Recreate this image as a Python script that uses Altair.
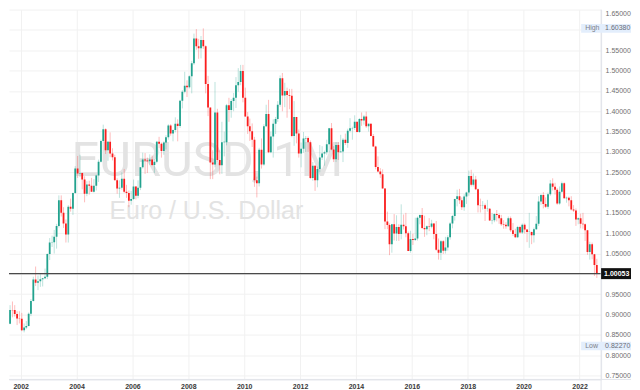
import altair as alt
import pandas as pd
import numpy as np

# Monthly EUR/USD candles, Jul 2001 .. Aug 2022
OPEN = [
    0.8490, 0.8770, 0.9110, 0.9110, 0.9010, 0.8900,
    0.8895, 0.8610, 0.8680, 0.8720, 0.9020, 0.9330, 0.9860, 0.9780, 0.9820, 0.9870, 0.9890, 0.9930,
    1.0490, 1.0770, 1.0780, 1.0910, 1.1180, 1.1810, 1.1500, 1.1240, 1.0970, 1.1650, 1.1600, 1.1990,
    1.2590, 1.2470, 1.2480, 1.2320, 1.1970, 1.2200, 1.2170, 1.2020, 1.2170, 1.2420, 1.2760, 1.3270,
    1.3560, 1.3040, 1.3250, 1.2960, 1.2870, 1.2300, 1.2100, 1.2120, 1.2340, 1.2020, 1.1990, 1.1800,
    1.1840, 1.2150, 1.1920, 1.2120, 1.2620, 1.2810, 1.2790, 1.2770, 1.2810, 1.2680, 1.2760, 1.3250,
    1.3200, 1.3020, 1.3230, 1.3360, 1.3650, 1.3450, 1.3540, 1.3690, 1.3640, 1.4260, 1.4480, 1.4630,
    1.4590, 1.4860, 1.5180, 1.5790, 1.5600, 1.5550, 1.5750, 1.5600, 1.4670, 1.4090, 1.2740, 1.2690,
    1.3970, 1.2800, 1.2670, 1.3240, 1.3240, 1.4150, 1.4030, 1.4250, 1.4330, 1.4640, 1.4720, 1.4990,
    1.4330, 1.3870, 1.3630, 1.3510, 1.3300, 1.2300, 1.2230, 1.3050, 1.2690, 1.3630, 1.3930, 1.2990,
    1.3380, 1.3690, 1.3810, 1.4160, 1.4810, 1.4390, 1.4500, 1.4400, 1.4380, 1.3390, 1.3860, 1.3450,
    1.2960, 1.3080, 1.3330, 1.3340, 1.3240, 1.2360, 1.2660, 1.2300, 1.2580, 1.2860, 1.2960, 1.2990,
    1.3190, 1.3580, 1.3060, 1.2820, 1.3170, 1.2990, 1.3010, 1.3300, 1.3220, 1.3520, 1.3580, 1.3590,
    1.3740, 1.3490, 1.3810, 1.3770, 1.3870, 1.3630, 1.3690, 1.3390, 1.3130, 1.2630, 1.2520, 1.2450,
    1.2100, 1.1290, 1.1200, 1.0730, 1.1220, 1.0990, 1.1150, 1.0980, 1.1210, 1.1170, 1.1000, 1.0560,
    1.0860, 1.0830, 1.0870, 1.1380, 1.1450, 1.1130, 1.1100, 1.1170, 1.1160, 1.1240, 1.0980, 1.0590,
    1.0520, 1.0800, 1.0570, 1.0650, 1.0900, 1.1240, 1.1420, 1.1840, 1.1910, 1.1810, 1.1640, 1.1900,
    1.2000, 1.2410, 1.2190, 1.2320, 1.2080, 1.1690, 1.1680, 1.1690, 1.1600, 1.1600, 1.1310, 1.1320,
    1.1470, 1.1450, 1.1370, 1.1220, 1.1210, 1.1170, 1.1370, 1.1070, 1.0980, 1.0900, 1.1150, 1.1020,
    1.1210, 1.1090, 1.1030, 1.1030, 1.0950, 1.1100, 1.1230, 1.1780, 1.1940, 1.1720, 1.1650, 1.1960,
    1.2220, 1.2140, 1.2070, 1.1730, 1.2020, 1.2230, 1.1860, 1.1870, 1.1810, 1.1580, 1.1560, 1.1340,
    1.1370, 1.1230, 1.1220, 1.1070, 1.0540, 1.0730, 1.0480, 1.0220,
]
HIGH = [
    0.8830, 0.9230, 0.9320, 0.9230, 0.9080, 0.9080,
    0.9040, 0.8780, 0.8840, 0.9050, 0.9380, 0.9930, 1.0180, 0.9960, 0.9990, 0.9900, 1.0130, 1.0500,
    1.0880, 1.0940, 1.1080, 1.1230, 1.1930, 1.1930, 1.1640, 1.1340, 1.1690, 1.1850, 1.2000, 1.2650,
    1.2900, 1.2930, 1.2490, 1.2400, 1.2280, 1.2290, 1.2360, 1.2330, 1.2440, 1.2810, 1.3300, 1.3670,
    1.3580, 1.3270, 1.3480, 1.3090, 1.2930, 1.2350, 1.2300, 1.2500, 1.2580, 1.2190, 1.2050, 1.2040,
    1.2320, 1.2160, 1.2300, 1.2630, 1.2980, 1.2970, 1.2860, 1.2940, 1.2910, 1.2820, 1.3270, 1.3370,
    1.3230, 1.3260, 1.3410, 1.3680, 1.3680, 1.3550, 1.3850, 1.3800, 1.4280, 1.4520, 1.4970, 1.4760,
    1.4880, 1.5240, 1.5910, 1.6020, 1.5780, 1.5850, 1.6038, 1.5620, 1.4870, 1.4090, 1.3040, 1.4720,
    1.4060, 1.3040, 1.3740, 1.3500, 1.4180, 1.4330, 1.4300, 1.4450, 1.4840, 1.5060, 1.5140, 1.5140,
    1.4580, 1.3980, 1.3820, 1.3700, 1.3370, 1.2390, 1.3100, 1.3330, 1.3680, 1.4160, 1.4280, 1.3500,
    1.3800, 1.3860, 1.4250, 1.4880, 1.4940, 1.4700, 1.4580, 1.4550, 1.4550, 1.4250, 1.3860, 1.3550,
    1.3230, 1.3490, 1.3390, 1.3380, 1.3280, 1.2750, 1.2670, 1.2640, 1.3170, 1.3140, 1.3030, 1.3300,
    1.3590, 1.3710, 1.3140, 1.3240, 1.3240, 1.3420, 1.3340, 1.3450, 1.3570, 1.3830, 1.3620, 1.3900,
    1.3740, 1.3830, 1.3970, 1.3910, 1.3990, 1.3700, 1.3700, 1.3440, 1.3150, 1.2890, 1.2600, 1.2570,
    1.2110, 1.1530, 1.1240, 1.1230, 1.1470, 1.1440, 1.1220, 1.1710, 1.1460, 1.1500, 1.1040, 1.1060,
    1.0990, 1.1380, 1.1410, 1.1460, 1.1620, 1.1430, 1.1190, 1.1370, 1.1330, 1.1250, 1.1300, 1.0870,
    1.0830, 1.0830, 1.0910, 1.0950, 1.1270, 1.1450, 1.1850, 1.2070, 1.2090, 1.1880, 1.1960, 1.2020,
    1.2540, 1.2560, 1.2470, 1.2410, 1.2100, 1.1850, 1.1790, 1.1730, 1.1820, 1.1620, 1.1500, 1.1490,
    1.1570, 1.1490, 1.1450, 1.1320, 1.1270, 1.1410, 1.1410, 1.1250, 1.1110, 1.1180, 1.1180, 1.1240,
    1.1240, 1.1100, 1.1500, 1.1040, 1.1140, 1.1420, 1.1910, 1.1970, 1.2010, 1.1880, 1.2000, 1.2310,
    1.2350, 1.2240, 1.2110, 1.2150, 1.2270, 1.2250, 1.1900, 1.1900, 1.1910, 1.1690, 1.1610, 1.1390,
    1.1480, 1.1500, 1.1240, 1.1080, 1.0790, 1.0770, 1.0490, 1.0370,
]
LOW = [
    0.8400, 0.8760, 0.8930, 0.8950, 0.8740, 0.8780,
    0.8590, 0.8560, 0.8640, 0.8710, 0.8960, 0.9320, 0.9700, 0.9600, 0.9680, 0.9690, 0.9870, 0.9870,
    1.0340, 1.0660, 1.0500, 1.0620, 1.1140, 1.1410, 1.1130, 1.0770, 1.0770, 1.1530, 1.1450, 1.1970,
    1.2360, 1.2380, 1.2080, 1.1760, 1.1910, 1.1950, 1.2020, 1.2000, 1.2050, 1.2260, 1.2740, 1.3240,
    1.2950, 1.2780, 1.2870, 1.2790, 1.2300, 1.1970, 1.1870, 1.2070, 1.1990, 1.1870, 1.1640, 1.1700,
    1.1820, 1.1830, 1.1860, 1.2060, 1.2590, 1.2460, 1.2480, 1.2680, 1.2650, 1.2480, 1.2720, 1.3090,
    1.2860, 1.2930, 1.3060, 1.3300, 1.3400, 1.3260, 1.3480, 1.3260, 1.3590, 1.4070, 1.4440, 1.4350,
    1.4560, 1.4440, 1.5140, 1.5510, 1.5290, 1.5300, 1.5530, 1.4440, 1.3880, 1.2330, 1.2330, 1.2620,
    1.2760, 1.2450, 1.2460, 1.2890, 1.3160, 1.3740, 1.3840, 1.4000, 1.4080, 1.4480, 1.4640, 1.4220,
    1.3860, 1.3440, 1.3270, 1.3120, 1.2140, 1.1880, 1.2150, 1.2590, 1.2660, 1.3610, 1.2970, 1.2970,
    1.2860, 1.3440, 1.3740, 1.4110, 1.4000, 1.4100, 1.3840, 1.4050, 1.3360, 1.3150, 1.3210, 1.2860,
    1.2620, 1.2980, 1.3000, 1.3000, 1.2330, 1.2290, 1.2040, 1.2130, 1.2500, 1.2800, 1.2660, 1.2930,
    1.2990, 1.3040, 1.2750, 1.2750, 1.2800, 1.2990, 1.2750, 1.3170, 1.3100, 1.3480, 1.3300, 1.3540,
    1.3480, 1.3470, 1.3640, 1.3670, 1.3590, 1.3500, 1.3380, 1.3130, 1.2570, 1.2500, 1.2360, 1.2100,
    1.1100, 1.1100, 1.0460, 1.0520, 1.0820, 1.0810, 1.0810, 1.0850, 1.1090, 1.0900, 1.0560, 1.0520,
    1.0710, 1.0810, 1.0820, 1.1220, 1.1100, 1.0910, 1.0950, 1.1050, 1.1120, 1.0850, 1.0570, 1.0350,
    1.0340, 1.0490, 1.0500, 1.0570, 1.0840, 1.1120, 1.1310, 1.1660, 1.1720, 1.1570, 1.1550, 1.1720,
    1.1920, 1.2150, 1.2150, 1.2060, 1.1510, 1.1510, 1.1580, 1.1300, 1.1530, 1.1300, 1.1220, 1.1270,
    1.1290, 1.1230, 1.1180, 1.1110, 1.1110, 1.1160, 1.1030, 1.0930, 1.0880, 1.0880, 1.0990, 1.0980,
    1.0990, 1.0780, 1.0640, 1.0730, 1.0770, 1.1080, 1.1180, 1.1700, 1.1610, 1.1620, 1.1600, 1.1920,
    1.2050, 1.1950, 1.1700, 1.1700, 1.1990, 1.1850, 1.1750, 1.1660, 1.1560, 1.1520, 1.1180, 1.1220,
    1.1120, 1.1110, 1.0810, 1.0470, 1.0350, 1.0360, 0.9950, 0.9900,
]
CLOSE = [
    0.8770, 0.9110, 0.9105, 0.9010, 0.8900, 0.8895,
    0.8610, 0.8680, 0.8720, 0.9020, 0.9330, 0.9860, 0.9780, 0.9820, 0.9870, 0.9890, 0.9930, 1.0490,
    1.0770, 1.0780, 1.0910, 1.1180, 1.1810, 1.1500, 1.1240, 1.0970, 1.1650, 1.1600, 1.1990, 1.2590,
    1.2470, 1.2480, 1.2320, 1.1970, 1.2200, 1.2170, 1.2020, 1.2170, 1.2420, 1.2760, 1.3270, 1.3560,
    1.3040, 1.3250, 1.2960, 1.2870, 1.2300, 1.2100, 1.2120, 1.2340, 1.2020, 1.1990, 1.1800, 1.1840,
    1.2150, 1.1920, 1.2120, 1.2620, 1.2810, 1.2790, 1.2770, 1.2810, 1.2680, 1.2760, 1.3250, 1.3200,
    1.3020, 1.3230, 1.3360, 1.3650, 1.3450, 1.3540, 1.3690, 1.3640, 1.4260, 1.4480, 1.4630, 1.4590,
    1.4860, 1.5180, 1.5790, 1.5600, 1.5550, 1.5750, 1.5600, 1.4670, 1.4090, 1.2740, 1.2690, 1.3970,
    1.2800, 1.2670, 1.3240, 1.3250, 1.4150, 1.4030, 1.4250, 1.4330, 1.4640, 1.4720, 1.4990, 1.4330,
    1.3870, 1.3630, 1.3510, 1.3300, 1.2300, 1.2230, 1.3050, 1.2690, 1.3630, 1.3930, 1.2990, 1.3380,
    1.3690, 1.3810, 1.4160, 1.4810, 1.4390, 1.4500, 1.4400, 1.4380, 1.3390, 1.3860, 1.3450, 1.2960,
    1.3080, 1.3330, 1.3340, 1.3240, 1.2360, 1.2660, 1.2300, 1.2580, 1.2860, 1.2960, 1.2990, 1.3190,
    1.3580, 1.3060, 1.2820, 1.3170, 1.2990, 1.3010, 1.3300, 1.3220, 1.3520, 1.3580, 1.3590, 1.3740,
    1.3490, 1.3810, 1.3770, 1.3870, 1.3630, 1.3690, 1.3390, 1.3130, 1.2630, 1.2520, 1.2450, 1.2100,
    1.1290, 1.1200, 1.0730, 1.1220, 1.0990, 1.1150, 1.0980, 1.1210, 1.1170, 1.1000, 1.0560, 1.0860,
    1.0830, 1.0870, 1.1380, 1.1450, 1.1130, 1.1100, 1.1170, 1.1160, 1.1240, 1.0980, 1.0590, 1.0520,
    1.0800, 1.0570, 1.0650, 1.0900, 1.1240, 1.1420, 1.1840, 1.1910, 1.1810, 1.1640, 1.1900, 1.2000,
    1.2410, 1.2190, 1.2320, 1.2080, 1.1690, 1.1680, 1.1690, 1.1600, 1.1605, 1.1310, 1.1320, 1.1470,
    1.1450, 1.1370, 1.1220, 1.1210, 1.1170, 1.1370, 1.1070, 1.0980, 1.0900, 1.1150, 1.1020, 1.1210,
    1.1090, 1.1030, 1.1035, 1.0950, 1.1100, 1.1230, 1.1780, 1.1940, 1.1720, 1.1650, 1.1960, 1.2220,
    1.2140, 1.2070, 1.1730, 1.2020, 1.2230, 1.1860, 1.1870, 1.1810, 1.1580, 1.1560, 1.1340, 1.1370,
    1.1230, 1.1220, 1.1070, 1.0540, 1.0730, 1.0480, 1.0220, 1.0005,
]

LAST_PRICE = 1.00053
HIGH_TAG = 1.60380
LOW_TAG = 0.82270
PRICE_TICKS = [0.75, 0.80, 0.85, 0.90, 0.95, 1.00, 1.05, 1.10, 1.15, 1.20, 1.25,
               1.30, 1.35, 1.40, 1.45, 1.50, 1.55, 1.60, 1.65]
YEAR_TICKS = list(range(2002, 2023, 2))

GREEN = "#22a28e"
RED = "#fa1e1e"
W, H = 594, 371
FRAME = "#e2e4ea"

months = pd.date_range("2001-07-01", periods=len(CLOSE), freq="MS") + pd.Timedelta(days=14)
df = pd.DataFrame({
    "date": months.strftime("%Y-%m-%d"),
    "open": OPEN, "high": HIGH, "low": LOW, "close": CLOSE,
})
df["dir"] = np.where(df["close"] >= df["open"], "up", "down")

xscale = alt.Scale(domain=[alt.DateTime(year=2001, month=8, date=1),
                           alt.DateTime(year=2022, month=10, date=10)],
                   nice=False, padding=0)
yscale = alt.Scale(domain=[0.7403, 1.65], nice=False, zero=False, padding=0)
cscale = alt.Scale(domain=["up", "down"], range=[GREEN, RED])

xaxis = alt.Axis(
    values=[alt.DateTime(year=y, month=1, date=1) for y in YEAR_TICKS],
    format="%Y", title=None, ticks=False, labelPadding=3, labelFontSize=7,
    labelFont="Liberation Sans", labelFontWeight="bold", labelColor="#3a3a3a",
    gridColor="#f1f1f1", domainColor=FRAME, labelOverlap=False, labelFlush=False,
    tickCount=40,
)
# labels hidden behind the "High" tag and the last-price tag, as in the picture
yaxis = alt.Axis(
    orient="right", values=PRICE_TICKS, format=".5f", title=None, ticks=False,
    labelPadding=4, labelFontSize=7, labelFont="Liberation Sans", labelColor="#6f6f6f",
    gridColor="#f1f1f1", domainColor=FRAME, labelFlush=True, labelOverlap=False,
    tickCount=40,
    labelExpr="(abs(datum.value - 1.6) < 0.001 || abs(datum.value - 1.0) < 0.001) ? '' : datum.label",
)

base = alt.Chart(df)

wicks = base.mark_rule(strokeWidth=1, opacity=0.3, clip=True).encode(
    x=alt.X("date:T", scale=xscale, axis=xaxis, title=None),
    y=alt.Y("low:Q", scale=yscale, axis=yaxis, title=None),
    y2="high:Q",
    color=alt.Color("dir:N", scale=cscale, legend=None),
)
bodies = base.mark_bar(size=1.8, clip=True).encode(
    x=alt.X("date:T", title=None),
    y=alt.Y("open:Q", title=None),
    y2="close:Q",
    color=alt.Color("dir:N", scale=cscale, legend=None),
)

wm_big = alt.Chart(pd.DataFrame({"t": ["EURUSD, 1M"]})).mark_text(
    font="Roboto", fontSize=49, color="#e3e3e3", align="center",
    baseline="alphabetic",
).encode(text="t:N", x=alt.value(199), y=alt.value(167))
wm_small = alt.Chart(pd.DataFrame({"t": ["Euro / U.S. Dollar"]})).mark_text(
    font="Liberation Sans", fontSize=25, color="#e3e3e3", align="center",
    baseline="alphabetic",
).encode(text="t:N", x=alt.value(198), y=alt.value(210))

last_line = alt.Chart(pd.DataFrame({"v": [LAST_PRICE]})).mark_rule(
    color="#4a4a4a", strokeWidth=1.4
).encode(y=alt.Y("v:Q", title=None))

# frame lines that run through the axis areas
frame_v = alt.Chart(pd.DataFrame({"k": [0]})).mark_rule(color=FRAME, strokeWidth=1).encode(
    x=alt.value(W), y=alt.value(0), y2=alt.value(H + 11))
frame_h = alt.Chart(pd.DataFrame({"k": [0]})).mark_rule(color=FRAME, strokeWidth=1).encode(
    x=alt.value(0), x2=alt.value(W + 30), y=alt.value(H))

tags = pd.DataFrame({"name": ["High", "Low"], "v": [HIGH_TAG, LOW_TAG]})
tag_box = alt.Chart(tags).transform_calculate(
    top="datum.v + 0.0105", bot="datum.v - 0.0105"
).mark_rect(color="#e3eefc").encode(
    x=alt.value(W - 20), x2=alt.value(W + 30),
    y=alt.Y("top:Q", title=None), y2="bot:Q",
)
tag_name = alt.Chart(tags).mark_text(
    align="left", baseline="middle", fontSize=7, font="Liberation Sans", color="#7d808a"
).encode(x=alt.value(W - 16), y=alt.Y("v:Q", title=None), text="name:N")
tag_val = alt.Chart(tags).mark_text(
    align="left", baseline="middle", fontSize=7, font="Liberation Sans", color="#6a6d78"
).encode(x=alt.value(W + 4), y=alt.Y("v:Q", title=None), text=alt.Text("v:Q", format=".5f"))

price = pd.DataFrame({"v": [LAST_PRICE]})
price_box = alt.Chart(price).transform_calculate(
    top="datum.v + 0.0135", bot="datum.v - 0.0135"
).mark_rect(color="#111111").encode(
    x=alt.value(W), x2=alt.value(W + 30),
    y=alt.Y("top:Q", title=None), y2="bot:Q",
)
price_txt = alt.Chart(price).mark_text(
    align="left", baseline="middle", fontSize=7, font="Liberation Sans",
    fontWeight="bold", color="#ffffff"
).encode(x=alt.value(W + 3), y=alt.Y("v:Q", title=None), text=alt.Text("v:Q", format=".5f"))

chart = alt.layer(
    wm_big, wm_small, wicks, bodies, last_line, frame_v, frame_h,
    tag_box, tag_name, tag_val, price_box, price_txt
).properties(width=W, height=H, padding=0).configure_view(
    stroke=None
).configure_axis(labelOverlap=False).configure_axisY(labelOverlap=False)

chart.save("out.html", embed_options={"renderer": "svg", "actions": False})
